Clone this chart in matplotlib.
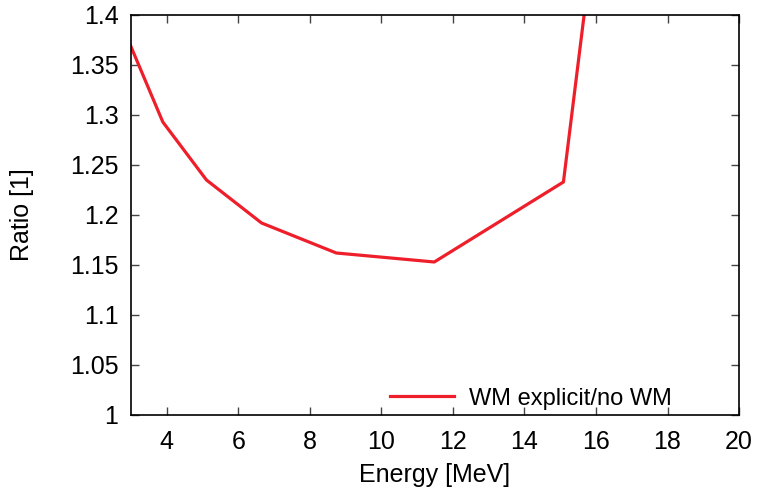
import matplotlib.pyplot as plt
import numpy as np

plt.rcParams['font.family'] = ['Liberation Sans', 'DejaVu Sans']

# Energy [MeV] and ratio
energy = [2.98, 3.89, 5.11, 6.65, 8.74, 11.48, 15.09, 16.5]
ratio = [1.370, 1.293, 1.235, 1.192, 1.162, 1.153, 1.233, 1.64]

xticks = [4, 6, 8, 10, 12, 14, 16, 18, 20]
yticks = [1, 1.05, 1.1, 1.15, 1.2, 1.25, 1.3, 1.35, 1.4]
yticklabels = ['1', '1.05', '1.1', '1.15', '1.2', '1.25', '1.3', '1.35', '1.4']

fig = plt.figure(figsize=(7.58, 4.88), dpi=100)
ax = fig.add_axes([0.1728, 0.1496, 0.8022, 0.8197])

ax.plot(energy, ratio, color='#ee1f2b', lw=2.3, label='WM explicit/no WM')

ax.set_xlim(3, 20)
ax.set_ylim(1, 1.4)
ax.set_xticks(xticks)
ax.set_yticks(yticks)
ax.set_yticklabels(yticklabels)
ax.tick_params(direction='in', length=6, width=1, top=True, right=True,
               labelsize=18, color='#444444')
ax.tick_params(axis='y', pad=9)
ax.tick_params(axis='x', pad=11)
for s in ax.spines.values():
    s.set_linewidth(1.2)

ax.set_xlabel('Energy [MeV]', fontsize=18, labelpad=6)
ax.set_ylabel('Ratio [1]', fontsize=18, labelpad=26)

ax.legend(loc='lower right', bbox_to_anchor=(0.925, -0.04), frameon=False,
          fontsize=17, handlelength=2.7, handletextpad=0.65)

fig.savefig('out.png', dpi=100)
